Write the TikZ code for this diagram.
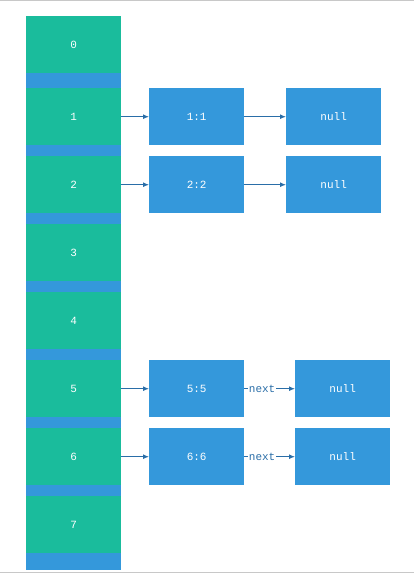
\documentclass[tikz,border=0pt]{standalone}
\usepackage{fontspec}
\setmonofont{Liberation Mono}
\usetikzlibrary{arrows.meta}
\definecolor{cellgreen}{HTML}{1ABC9C}
\definecolor{cellblue}{HTML}{3498DB}
\definecolor{arrowblue}{HTML}{2A6EA8}
\definecolor{framegray}{HTML}{C8C8C8}
\begin{document}
\begin{tikzpicture}[x=1pt,y=1pt,
  cell/.style={fill=cellgreen,draw=none,minimum width=95pt,minimum height=57pt,inner sep=0pt,text=white,font=\ttfamily\fontsize{11}{12}\selectfont,anchor=north west},
  entry/.style={fill=cellblue,draw=none,minimum width=95pt,minimum height=57pt,inner sep=0pt,text=white,font=\ttfamily\fontsize{11}{12}\selectfont,anchor=north west},
  link/.style={draw=arrowblue,line width=1pt,-{Latex[length=6pt,width=5pt]}},
  lbl/.style={fill=white,inner sep=0.5pt,text=arrowblue,font=\ttfamily\fontsize{11}{12}\selectfont}]
\useasboundingbox (0,0) rectangle (414,574);
% frame lines
\draw[framegray,line width=1pt] (0,573.5) -- (414,573.5);
\draw[framegray,line width=1.2pt] (0,1.8) -- (414,1.8);
% blue column background
\fill[cellblue] (26,4) rectangle (121,558);
% cells
\node[cell] (c0) at (26,558) {0};
\node[cell] (c1) at (26,486) {1};
\node[cell] (c2) at (26,418) {2};
\node[cell] (c3) at (26,350) {3};
\node[cell] (c4) at (26,282) {4};
\node[cell] (c5) at (26,214) {5};
\node[cell] (c6) at (26,146) {6};
\node[cell] (c7) at (26,78) {7};
% entries
\node[entry] (e1) at (149,486) {1:1};
\node[entry] (n1) at (286,486) {null};
\node[entry] (e2) at (149,418) {2:2};
\node[entry] (n2) at (286,418) {null};
\node[entry] (e5) at (149,214) {5:5};
\node[entry] (n5) at (295,214) {null};
\node[entry] (e6) at (149,146) {6:6};
\node[entry] (n6) at (295,146) {null};
% links
\draw[link] (c1) -- (e1);
\draw[link] (c2) -- (e2);
\draw[link] (c5) -- (e5);
\draw[link] (c6) -- (e6);
\draw[link] (e1) -- (n1);
\draw[link] (e2) -- (n2);
\draw[link] (e5) -- node[lbl,pos=0.35] {next} (n5);
\draw[link] (e6) -- node[lbl,pos=0.35] {next} (n6);
\end{tikzpicture}
\end{document}
